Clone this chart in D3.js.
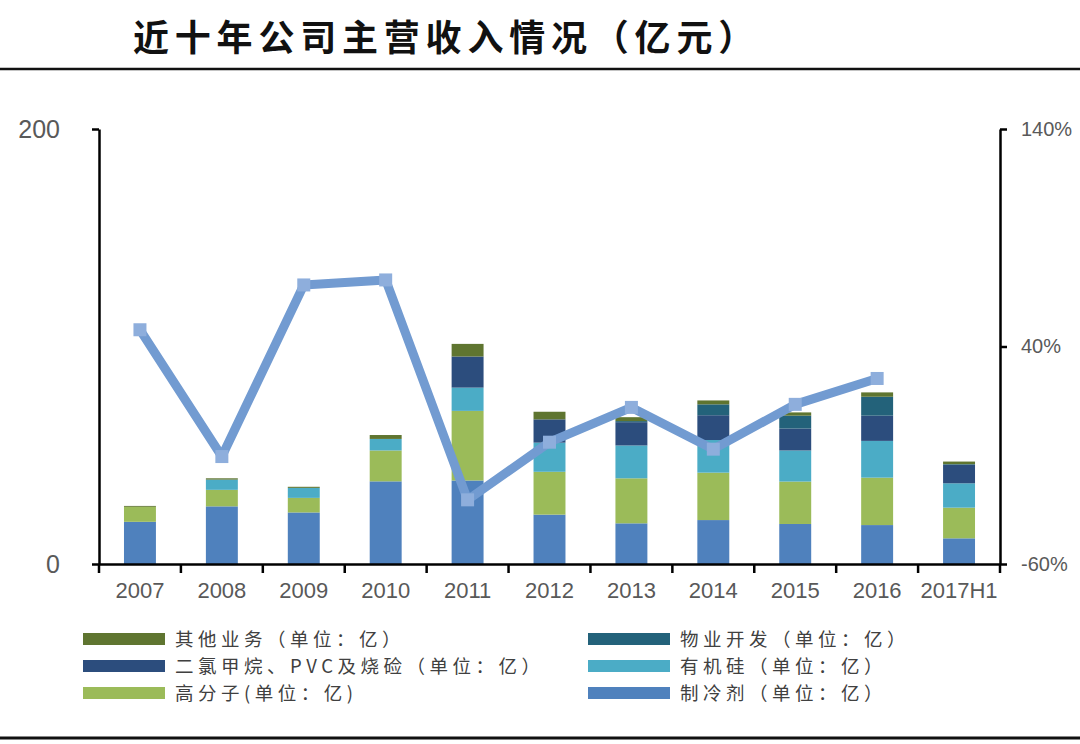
<!DOCTYPE html>
<html>
<head>
    <meta charset="utf-8">
    <title>近十年公司主营收入情况</title>
    <script src="https://d3js.org/d3.v7.min.js"></script>
    <style>
        body {
            margin: 0;
            background-color: #fff;
        }
        .axis path,
        .axis line {
            stroke: #000;
            stroke-width: 2.5;
        }
        .axis text {
            fill: #595959;
            font-family: "Liberation Sans", Arial, sans-serif;
        }
        .legend text {
            fill: #404040;
            font-family: "Noto Sans CJK SC", sans-serif;
            font-size: 18.5px;
        }
    </style>
</head>
<body>
    <svg id="chart"></svg>
    <script>
        const years = ['2007', '2008', '2009', '2010', '2011', '2012', '2013', '2014', '2015', '2016', '2017H1'];

        // revenue by segment (亿元)
        const refrigerant = [19.4, 26.5, 23.7, 38.0, 38.4, 22.7, 18.7, 20.2, 18.4, 17.9, 11.8];
        const polymer     = [6.9, 7.6, 6.7, 14.2, 32.0, 19.7, 20.7, 21.8, 19.5, 21.8, 14.1];
        const silicone    = [0, 4.7, 4.6, 5.3, 10.7, 13.4, 15.1, 15.0, 14.3, 16.9, 11.2];
        const chloride    = [0, 0, 0, 0, 14.3, 10.7, 10.7, 11.4, 10.1, 11.6, 8.5];
        const property    = [0, 0, 0, 0, 0, 0, 0.5, 5.0, 5.9, 8.7, 0.3];
        const other       = [0.4, 0.6, 0.5, 1.8, 5.8, 3.5, 1.8, 1.8, 1.5, 2.0, 1.2];

        // growth rate (%), no value for 2017H1
        const growth = [47.7, -10.6, 68.3, 70.6, -30.5, -4.0, 12.0, -7.2, 13.4, 25.3, null];

        const leftTicks = [0, 200];
        const rightTicks = [-60, 40, 140];

        const seriesNames = {
            refrigerant: '制冷剂（单位：亿）',
            polymer: '高分子(单位：亿)',
            silicone: '有机硅（单位：亿）',
            chloride: '二氯甲烷、PVC及烧硷（单位：亿）',
            property: '物业开发（单位：亿）',
            other: '其他业务（单位：亿）'
        };
        const colors = {
            refrigerant: '#4f81bd',
            polymer: '#9bbb59',
            silicone: '#4bacc6',
            chloride: '#2c4d7d',
            property: '#23627a',
            other: '#5f7530'
        };
        const keys = ['refrigerant', 'polymer', 'silicone', 'chloride', 'property', 'other'];
        const values = { refrigerant, polymer, silicone, chloride, property, other };

        const table = years.map((yr, i) => {
            const row = { year: yr };
            keys.forEach(k => row[k] = values[k][i]);
            return row;
        });

        const W = 1080, H = 744;
        const svg = d3.select('#chart').attr('width', W).attr('height', H);

        // title and rules
        svg.append('text')
            .attr('x', 133).attr('y', 51)
            .attr('font-family', '"Noto Sans CJK SC", sans-serif')
            .attr('font-weight', 'bold')
            .attr('font-size', 36)
            .attr('letter-spacing', 5.8)
            .attr('fill', '#111')
            .text('近十年公司主营收入情况（亿元）');
        svg.append('line').attr('x1', 0).attr('x2', W).attr('y1', 69).attr('y2', 69)
            .attr('stroke', '#111').attr('stroke-width', 2.5);
        svg.append('line').attr('x1', 0).attr('x2', W).attr('y1', 738).attr('y2', 738)
            .attr('stroke', '#111').attr('stroke-width', 3);

        const plotLeft = 99, plotRight = 1000, plotTop = 129, plotBottom = 564;

        const x = d3.scaleBand().domain(years).range([plotLeft, plotRight]).paddingInner(0).paddingOuter(0);
        const barW = x.bandwidth() * 0.39;
        const y = d3.scaleLinear().domain([0, 200]).range([plotBottom, plotTop]);
        const y2 = d3.scaleLinear().domain([-60, 140]).range([plotBottom, plotTop]);

        // stacked bars
        const stacked = d3.stack().keys(keys)(table);
        svg.append('g').selectAll('g')
            .data(stacked)
            .enter().append('g')
            .attr('fill', d => colors[d.key])
            .selectAll('rect')
            .data(d => d)
            .enter().append('rect')
            .attr('x', d => x(d.data.year) + (x.bandwidth() - barW) / 2)
            .attr('width', barW)
            .attr('y', d => y(d[1]))
            .attr('height', d => y(d[0]) - y(d[1]));

        // axes
        const yAxis = svg.append('g').attr('class', 'axis')
            .attr('transform', `translate(${plotLeft},0)`)
            .call(d3.axisLeft(y).tickValues(leftTicks).tickSize(7).tickSizeOuter(0).tickPadding(32));
        yAxis.selectAll('text').attr('font-size', 25);

        const y2Axis = svg.append('g').attr('class', 'axis')
            .attr('transform', `translate(${plotRight},0)`)
            .call(d3.axisRight(y2).tickValues(rightTicks).tickSize(7).tickSizeOuter(0)
                .tickPadding(14).tickFormat(d => d + '%'));
        y2Axis.selectAll('text').attr('font-size', 20);

        const xAxis = svg.append('g').attr('class', 'axis')
            .attr('transform', `translate(0,${plotBottom})`)
            .call(d3.axisBottom(x).tickSize(0).tickSizeOuter(0).tickPadding(18));
        xAxis.selectAll('text').attr('font-size', 22);
        // boundary ticks between categories
        xAxis.selectAll('.bound')
            .data(years.concat(['end']))
            .enter().append('line')
            .attr('class', 'bound')
            .attr('x1', (d, i) => plotLeft + i * x.step())
            .attr('x2', (d, i) => plotLeft + i * x.step())
            .attr('y1', 0).attr('y2', 9);

        // growth line
        const pts = years.map((yr, i) => ({ year: yr, v: growth[i] })).filter(d => d.v !== null);
        const line = d3.line()
            .x(d => x(d.year) + x.bandwidth() / 2)
            .y(d => y2(d.v));
        svg.append('path')
            .datum(pts)
            .attr('d', line)
            .attr('fill', 'none')
            .attr('stroke', '#729bd1')
            .attr('stroke-width', 9)
            .attr('stroke-linejoin', 'round');
        svg.append('g').selectAll('rect')
            .data(pts)
            .enter().append('rect')
            .attr('x', d => x(d.year) + x.bandwidth() / 2 - 6.5)
            .attr('y', d => y2(d.v) - 6.5)
            .attr('width', 13).attr('height', 13)
            .attr('fill', '#8eaedc');

        // legend
        const legendOrder = ['other', 'property', 'chloride', 'silicone', 'polymer', 'refrigerant'];
        const legend = svg.append('g').attr('class', 'legend');
        legendOrder.forEach((k, i) => {
            const col = i % 2, row = Math.floor(i / 2);
            const lx = col === 0 ? 83 : 588;
            const ly = 639 + row * 27;
            legend.append('rect')
                .attr('x', lx).attr('y', ly - 6)
                .attr('width', 82).attr('height', 12)
                .attr('fill', colors[k]);
            legend.append('text')
                .attr('x', lx + 92).attr('y', ly)
                .attr('dy', '0.36em')
                .attr('letter-spacing', 4.5)
                .text(seriesNames[k]);
        });
    </script>
</body>
</html>
